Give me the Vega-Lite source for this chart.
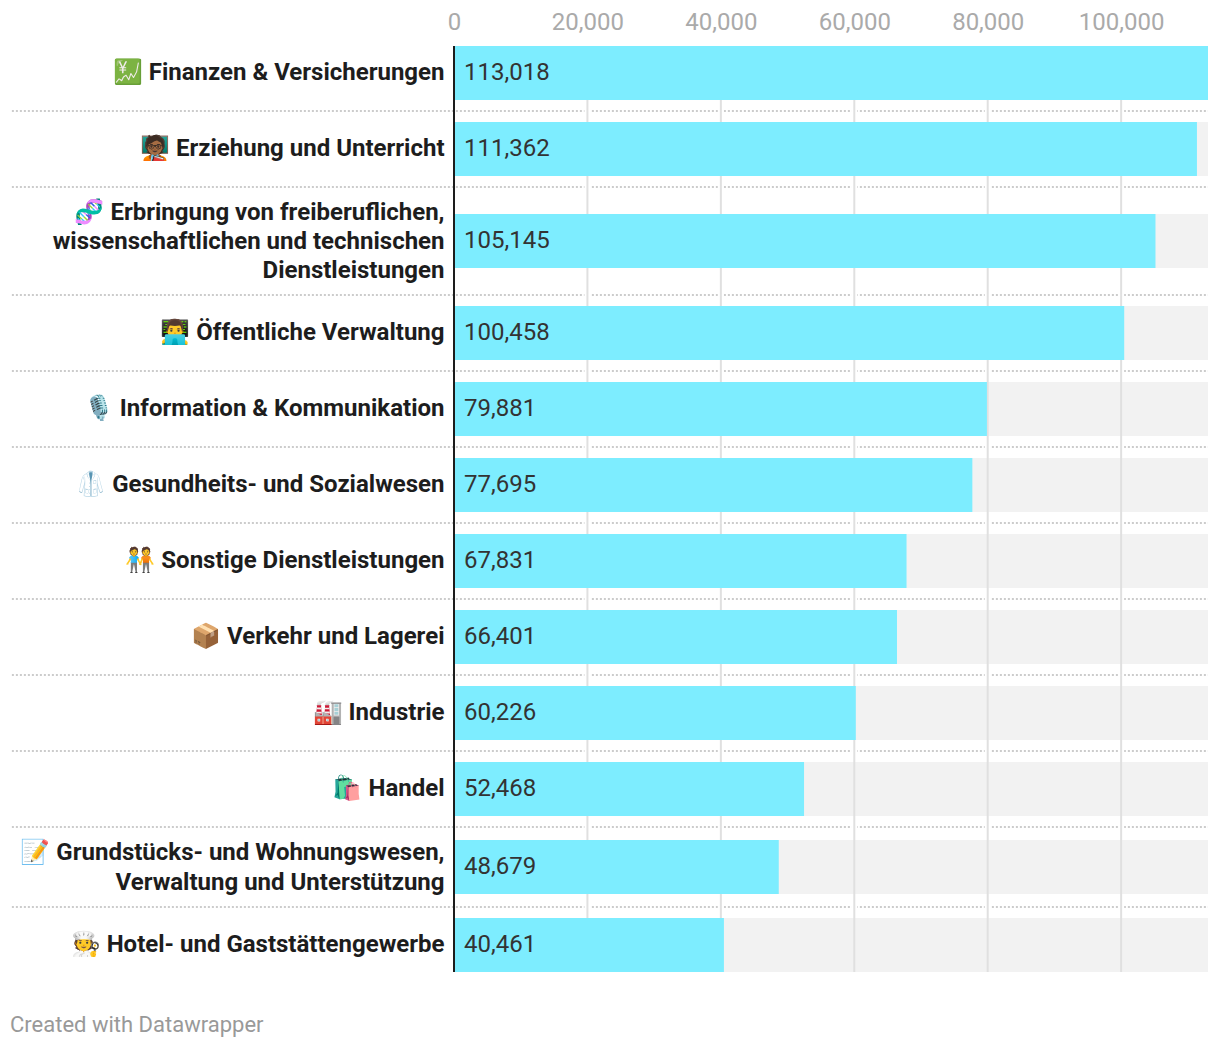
{"$schema":"https://vega.github.io/schema/vega-lite/v6.json","width":754,"height":926,"autosize":{"type":"none"},"padding":{"left":454,"top":46,"right":12,"bottom":76},"background":"white","config":{"view":{"stroke":null},"font":"Roboto"},"title":{"text":"Created with Datawrapper","orient":"bottom","anchor":"start","frame":"group","dx":-444,"offset":40,"fontSize":22,"fontWeight":400,"color":"#999999","font":"Roboto"},"datasets":{"rows":[{"rank":1,"lines":1,"label":"💹 Finanzen & Versicherungen","value":113018,"max":113018},{"rank":2,"lines":1,"label":"🧑🏾‍🏫 Erziehung und Unterricht","value":111362,"max":113018},{"rank":3,"lines":3,"label":"🧬 Erbringung von freiberuflichen,\nwissenschaftlichen und technischen\nDienstleistungen","value":105145,"max":113018},{"rank":4,"lines":1,"label":"👨‍💻 Öffentliche Verwaltung","value":100458,"max":113018},{"rank":5,"lines":1,"label":"🎙️ Information & Kommunikation","value":79881,"max":113018},{"rank":6,"lines":1,"label":"🥼 Gesundheits- und Sozialwesen","value":77695,"max":113018},{"rank":7,"lines":1,"label":"🧑‍🤝‍🧑 Sonstige Dienstleistungen","value":67831,"max":113018},{"rank":8,"lines":1,"label":"📦 Verkehr und Lagerei","value":66401,"max":113018},{"rank":9,"lines":1,"label":"🏭 Industrie","value":60226,"max":113018},{"rank":10,"lines":1,"label":"🛍️ Handel","value":52468,"max":113018},{"rank":11,"lines":2,"label":"📝 Grundstücks- und Wohnungswesen,\nVerwaltung und Unterstützung","value":48679,"max":113018},{"rank":12,"lines":1,"label":"🧑‍🍳 Hotel- und Gaststättengewerbe","value":40461,"max":113018}],"seps":[{"after":1.5,"from":-66270,"to":113018},{"after":2.5,"from":-66270,"to":113018},{"after":3.5,"from":-66270,"to":113018},{"after":4.5,"from":-66270,"to":113018},{"after":5.5,"from":-66270,"to":113018},{"after":6.5,"from":-66270,"to":113018},{"after":7.5,"from":-66270,"to":113018},{"after":8.5,"from":-66270,"to":113018},{"after":9.5,"from":-66270,"to":113018},{"after":10.5,"from":-66270,"to":113018},{"after":11.5,"from":-66270,"to":113018}],"grid":[{"tick":20000},{"tick":40000},{"tick":60000},{"tick":80000},{"tick":100000}],"baseline":[{"tick":0}]},"layer":[{"data":{"name":"seps"},"mark":{"type":"rule","stroke":"#cccccc","strokeWidth":2,"strokeDash":[2,2],"clip":false},"encoding":{"x":{"field":"from","type":"quantitative","scale":{"domain":[0,113018],"nice":false,"zero":false,"padding":0},"axis":{"orient":"top","values":[0,20000,40000,60000,80000,100000],"labelExpr":"format(datum.value, ',')","title":null,"grid":false,"ticks":false,"domain":false,"labelFont":"Roboto","labelFontSize":24,"labelColor":"#aaaaaa","labelPadding":12,"labelFlush":false,"labelOverlap":false}},"x2":{"field":"to"},"y":{"field":"after","type":"quantitative","axis":null,"scale":{"domain":[1,1.5,2,2.5,3,3.5,4,4.5,5,5.5,6,6.5,7,7.5,8,8.5,9,9.5,10,10.5,11,11.5,12],"range":[27,65,103,141,195,249,287,325,363,401,439,477,515,553,591,629,667,705,743,781,821,861,899],"nice":false,"zero":false,"padding":0}}}},{"data":{"name":"grid"},"mark":{"type":"rule","stroke":"white","strokeWidth":6},"encoding":{"x":{"field":"tick","type":"quantitative"}}},{"data":{"name":"rows"},"mark":{"type":"bar","orient":"horizontal","size":54,"color":"#f2f2f2"},"encoding":{"x":{"field":"max","type":"quantitative"},"y":{"field":"rank","type":"quantitative"}}},{"data":{"name":"grid"},"mark":{"type":"rule","stroke":"#e0e0e0","strokeWidth":2},"encoding":{"x":{"field":"tick","type":"quantitative"}}},{"data":{"name":"rows"},"mark":{"type":"bar","orient":"horizontal","size":54,"color":"#7DEDFF"},"encoding":{"x":{"field":"value","type":"quantitative"},"y":{"field":"rank","type":"quantitative"}}},{"data":{"name":"rows"},"mark":{"type":"text","align":"left","baseline":"middle","dx":10,"fontSize":24,"font":"Roboto","color":"#333333"},"encoding":{"x":{"datum":0},"y":{"field":"rank","type":"quantitative"},"text":{"field":"value","type":"quantitative","format":","}}},{"data":{"name":"rows"},"transform":[{"filter":"datum.lines == 1"}],"mark":{"type":"text","align":"right","baseline":"middle","dx":-9.5,"fontSize":24,"fontWeight":700,"font":"Roboto","color":"#1d1d1d"},"encoding":{"x":{"datum":0},"y":{"field":"rank","type":"quantitative"},"text":{"field":"label","type":"nominal"}}},{"data":{"name":"rows"},"transform":[{"filter":"datum.lines == 2"}],"mark":{"type":"text","align":"right","baseline":"middle","dx":-9.5,"dy":-14,"fontSize":24,"fontWeight":700,"font":"Roboto","color":"#1d1d1d","lineBreak":"\n","lineHeight":29.5},"encoding":{"x":{"datum":0},"y":{"field":"rank","type":"quantitative"},"text":{"field":"label","type":"nominal"}}},{"data":{"name":"rows"},"transform":[{"filter":"datum.lines == 3"}],"mark":{"type":"text","align":"right","baseline":"middle","dx":-9.5,"dy":-28,"fontSize":24,"fontWeight":700,"font":"Roboto","color":"#1d1d1d","lineBreak":"\n","lineHeight":29},"encoding":{"x":{"datum":0},"y":{"field":"rank","type":"quantitative"},"text":{"field":"label","type":"nominal"}}},{"data":{"name":"baseline"},"mark":{"type":"rule","stroke":"#1d1d1d","strokeWidth":2},"encoding":{"x":{"field":"tick","type":"quantitative"}}}]}
